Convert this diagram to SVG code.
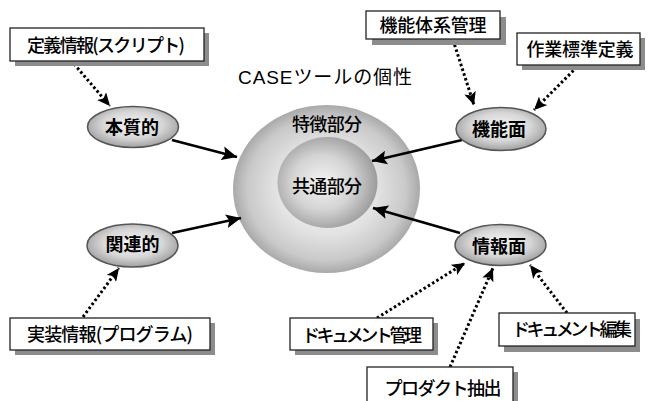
<svg xmlns="http://www.w3.org/2000/svg" width="649" height="401" viewBox="0 0 649 401">
<defs>
<radialGradient id="gOuter" cx="0.5" cy="0.5" r="0.5">
<stop offset="0" stop-color="#ffffff"/>
<stop offset="0.55" stop-color="#e2e2e2"/>
<stop offset="0.85" stop-color="#c9c9c9"/>
<stop offset="1" stop-color="#a9a9a9"/>
</radialGradient>
<radialGradient id="gInner" cx="0.45" cy="0.5" r="0.55">
<stop offset="0" stop-color="#f4f4f4"/>
<stop offset="0.55" stop-color="#d4d4d4"/>
<stop offset="1" stop-color="#9c9c9c"/>
</radialGradient>
<radialGradient id="gNode" cx="0.5" cy="0.45" r="0.55">
<stop offset="0" stop-color="#f6f6f6"/>
<stop offset="0.6" stop-color="#d6d6d6"/>
<stop offset="1" stop-color="#a0a0a0"/>
</radialGradient>
<marker id="mSolid" markerUnits="userSpaceOnUse" markerWidth="16" markerHeight="14" refX="15" refY="7" orient="auto">
<path d="M0,0 L15,7 L0,14 L3,7 z" fill="#000"/>
</marker>
<marker id="mDot" markerUnits="userSpaceOnUse" markerWidth="14" markerHeight="12" refX="13" refY="6" orient="auto">
<path d="M0,0 L13,6 L0,12 L3,6 z" fill="#000"/>
</marker>
</defs>
<style>
.box{fill:#ffffff;stroke:#222;stroke-width:1.3}
.shadow{fill:#8c8c8c}
.node{fill:url(#gNode);stroke:#555;stroke-width:1.5}
.t{font-family:"Noto Sans CJK JP","Liberation Sans",sans-serif;fill:#000;text-anchor:middle}
.tb{font-size:18px;font-weight:500}
.tn{font-size:18px;font-weight:700}
.tc{font-size:18px;font-weight:500}
.solid{stroke:#000;stroke-width:2.6;fill:none;marker-end:url(#mSolid)}
.dot{stroke:#000;stroke-width:3;stroke-dasharray:2.5 2.5;fill:none;marker-end:url(#mDot)}
</style>
<rect width="649" height="401" fill="#ffffff"/>

<g id="core">
<ellipse cx="326.5" cy="189" rx="93.5" ry="84" fill="url(#gOuter)"/>
<ellipse cx="327.5" cy="182.5" rx="50" ry="45.5" fill="url(#gInner)"/>
<text class="t tc" x="327" y="131" textLength="70">特徴部分</text>
<text class="t tc" x="327" y="193" textLength="70">共通部分</text>
</g>
<g id="title">
<text x="325" y="84" font-family="'Liberation Sans','Noto Sans CJK JP',sans-serif" font-size="19" text-anchor="middle" textLength="174">CASEツールの個性</text>
</g>

<g id="connectors">
<line class="solid" x1="172" y1="140" x2="237" y2="157"/>
<line class="solid" x1="172" y1="233" x2="241" y2="218"/>
<line class="solid" x1="462" y1="140" x2="372" y2="161"/>
<line class="solid" x1="460" y1="233" x2="373" y2="208"/>
<line class="dot" x1="74" y1="64" x2="110" y2="106"/>
<line class="dot" x1="453" y1="40" x2="474" y2="105"/>
<line class="dot" x1="577" y1="67" x2="534" y2="110"/>
<line class="dot" x1="83" y1="317" x2="119" y2="268"/>
<line class="dot" x1="377" y1="318" x2="465" y2="263"/>
<line class="dot" x1="450" y1="367" x2="493" y2="268"/>
<line class="dot" x1="567" y1="313" x2="530" y2="265"/>
</g>

<g id="n-teigi">
<rect class="shadow" x="15" y="33" width="194" height="33"/>
<rect class="box" x="10" y="28" width="194" height="33"/>
<text class="t tb" x="106" y="51.5" textLength="158">定義情報(スクリプト)</text>
</g>
<g id="n-kinoutaikei">
<rect class="shadow" x="372" y="17" width="134" height="28"/>
<rect class="box" x="366" y="11" width="134" height="28"/>
<text class="t tb" x="433" y="32" textLength="107">機能体系管理</text>
</g>
<g id="n-sagyou">
<rect class="shadow" x="522" y="38" width="123" height="32"/>
<rect class="box" x="517" y="33" width="123" height="32"/>
<text class="t tb" x="580" y="56" textLength="107">作業標準定義</text>
</g>
<g id="n-jissou">
<rect class="shadow" x="15" y="323" width="200" height="32"/>
<rect class="box" x="10" y="318" width="200" height="32"/>
<text class="t tb" x="110" y="341" textLength="166">実装情報(プログラム)</text>
</g>
<g id="n-doc-kanri">
<rect class="shadow" x="295" y="323" width="143" height="32"/>
<rect class="box" x="290" y="318" width="143" height="32"/>
<text class="t tb" x="362" y="341.5" textLength="120">ドキュメント管理</text>
</g>
<g id="n-doc-henshu">
<rect class="shadow" x="504" y="319" width="136" height="33"/>
<rect class="box" x="499" y="313" width="136" height="33"/>
<text class="t tb" x="572" y="336" textLength="120">ドキュメント編集</text>
</g>
<g id="n-product">
<rect class="shadow" x="372" y="372" width="146" height="40"/>
<rect class="box" x="367" y="367" width="146" height="40"/>
<text class="t tb" x="443" y="395" textLength="117">プロダクト抽出</text>
</g>

<g id="n-honshitsu">
<ellipse class="node" cx="133" cy="127" rx="45.5" ry="20.5"/>
<text class="t tn" x="132" y="134">本質的</text>
</g>
<g id="n-kanren">
<ellipse class="node" cx="132.5" cy="245.5" rx="45.5" ry="21.5"/>
<text class="t tn" x="132.5" y="251">関連的</text>
</g>
<g id="n-kinou">
<ellipse class="node" cx="501" cy="129" rx="45" ry="21.5"/>
<text class="t tn" x="499" y="136">機能面</text>
</g>
<g id="n-jouhou">
<ellipse class="node" cx="500.5" cy="245" rx="45.5" ry="20.5"/>
<text class="t tn" x="499" y="252.5">情報面</text>
</g>
</svg>
